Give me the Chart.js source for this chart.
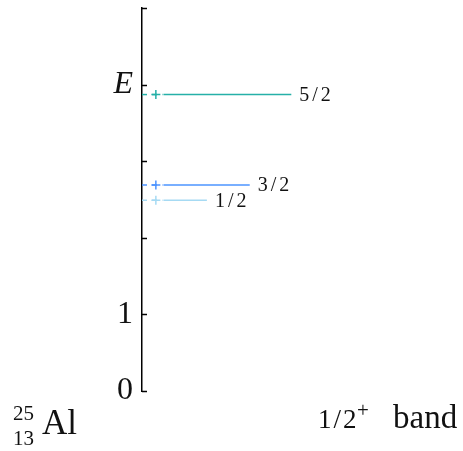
<!DOCTYPE html>
<html>
<head>
<meta charset="utf-8">
<script src="https://cdn.jsdelivr.net/npm/chart.js@4"></script>
<style>
  html, body { margin: 0; padding: 0; background: #fff; }
  #wrap { width: 463px; height: 451px; position: relative; }
</style>
</head>
<body>
<div id="wrap"><canvas id="levels"></canvas></div>
<script>
// level data (energies, 0..5)
const spins = ['1/2', '3/2', '5/2'];
const energies = [2.49, 2.69, 3.87];
const lineEnds = [2.06, 3.42, 4.74];   // right end of each level line (x units)
const yTickLabels = ['0', '1', '', '', 'E', ''];
const nucleus = { mass: '25', charge: '13', symbol: 'Al' };
const bandName = { spin: '1/2', parity: '+', word: 'band' };

const levelColors = ['#a6daf3', '#4d94ff', '#26b0a8'];
const serif = "'Liberation Serif', 'DejaVu Serif', serif";

// dashed stub from the axis, cross marker, then the solid level line
const dashEnd = 0.65;
const crossX = 0.44;
const solidStart = 0.68;

const datasets = [];
energies.forEach((e, i) => {
    datasets.push({
        data: [{ x: 0, y: e }, { x: dashEnd, y: e }],
        borderColor: levelColors[i],
        borderWidth: 1.5,
        borderDash: [5, 5],
        pointRadius: 0
    });
    datasets.push({
        data: [{ x: solidStart, y: e }, { x: lineEnds[i], y: e }],
        borderColor: levelColors[i],
        borderWidth: 1.5,
        pointRadius: 0
    });
    datasets.push({
        data: [{ x: crossX, y: e }],
        borderColor: levelColors[i],
        borderWidth: 1.5,
        pointStyle: 'cross',
        pointRadius: 4.5,
        showLine: false
    });
});

// inward tick marks, level labels and the captions under the axis
const decorations = {
    id: 'decorations',
    afterDraw(chart) {
        const ctx = chart.ctx;
        const xs = chart.scales.x;
        const ys = chart.scales.y;
        const left = chart.chartArea.left;

        ctx.save();
        ctx.strokeStyle = '#000';
        ctx.lineWidth = 1.5;
        ys.ticks.forEach(t => {
            const py = Math.round(ys.getPixelForValue(t.value)) + 0.5;
            ctx.beginPath();
            ctx.moveTo(left, py);
            ctx.lineTo(left + 5, py);
            ctx.stroke();
        });

        ctx.fillStyle = '#111';
        ctx.textBaseline = 'middle';
        ctx.textAlign = 'left';
        ctx.font = '20px ' + serif;
        ctx.letterSpacing = '3px';
        spins.forEach((s, i) => {
            ctx.fillText(s, xs.getPixelForValue(lineEnds[i]) + 8, ys.getPixelForValue(energies[i]) + 1);
        });

        ctx.letterSpacing = '0px';
        ctx.textBaseline = 'alphabetic';
        ctx.font = '21px ' + serif;
        ctx.fillText(nucleus.mass, 13, 420);
        ctx.fillText(nucleus.charge, 13, 445);
        ctx.font = '35px ' + serif;
        ctx.fillText(nucleus.symbol, 42, 434);

        ctx.font = '27px ' + serif;
        ctx.letterSpacing = '2px';
        ctx.fillText(bandName.spin, 318, 428);
        ctx.letterSpacing = '0px';
        ctx.font = '21px ' + serif;
        ctx.fillText(bandName.parity, 357, 417);
        ctx.font = '33px ' + serif;
        ctx.fillText(bandName.word, 393, 428);
        ctx.restore();
    }
};

new Chart(document.getElementById('levels'), {
    type: 'line',
    data: { datasets: datasets },
    plugins: [decorations],
    options: {
        responsive: true,
        maintainAspectRatio: false,
        animation: false,
        layout: { padding: { top: 8, bottom: 60, left: 0, right: 0 } },
        plugins: {
            legend: { display: false },
            tooltip: { enabled: false }
        },
        scales: {
            x: {
                type: 'linear',
                min: 0,
                max: 10,
                display: false
            },
            y: {
                type: 'linear',
                min: 0,
                max: 5,
                afterFit(scale) {
                    scale.width = 142;
                    scale.paddingTop = 0;
                    scale.paddingBottom = 0;
                },
                grid: { display: false, drawTicks: false },
                border: { display: true, color: '#000', width: 1.5 },
                ticks: {
                    stepSize: 1,
                    padding: 9,
                    color: '#111',
                    font: (c) => (c.tick && c.tick.value === 4)
                        ? { family: serif, size: 32, style: 'italic' }
                        : { family: serif, size: 32 },
                    callback: (v) => yTickLabels[v] || ''
                }
            }
        }
    }
});
</script>
</body>
</html>
